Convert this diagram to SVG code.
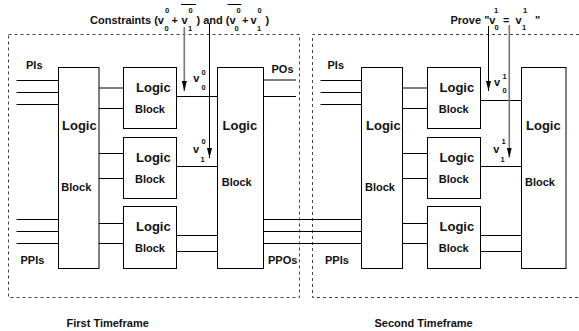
<svg xmlns="http://www.w3.org/2000/svg" width="579" height="331" viewBox="0 0 579 331">
  <style>
    text { font-family: "Liberation Sans", Arial, sans-serif; font-weight: bold; fill: #111; }
    .t { font-size: 11px; }
    .lg { font-size: 13px; }
    .bk { font-size: 11px; }
    .s { font-size: 7.5px; }
    .box { fill: #fff; stroke: #000; stroke-width: 1; }
    .frame { fill: none; stroke: #444; stroke-width: 1; stroke-dasharray: 3 3; }
    .w { fill: none; stroke: #000; stroke-width: 1; }
    .g { fill: none; stroke: #777; stroke-width: 1.6; }
  </style>
  <defs>
    <marker id="arr" viewBox="0 0 10 5" refX="10" refY="2.5" markerWidth="10" markerHeight="5" markerUnits="userSpaceOnUse" orient="auto">
      <path d="M0,0 L10,2.5 L0,5 z" fill="#000"/>
    </marker>
  </defs>
  <rect width="579" height="331" fill="#fff"/>

  <!-- timeframe outlines -->
  <g id="frame1">
    <rect class="frame" x="8.5" y="34.5" width="291" height="263"/>
    <text class="t" x="66.5" y="326.5">First Timeframe</text>
  </g>
  <g id="frame2">
    <path class="frame" d="M579,34.5 H312.5 V297.5 H579"/>
    <text class="t" x="374.5" y="326.5">Second Timeframe</text>
  </g>

  <!-- titles -->
  <g id="constraints">
    <text class="t" x="90" y="23.5">Constraints (v</text>
    <text class="s" x="165" y="13">0</text>
    <text class="s" x="164.5" y="30.5">0</text>
    <text class="t" x="171.5" y="23.5">+</text>
    <text class="t" x="181.5" y="23.5">v</text>
    <text class="s" x="188.5" y="13">0</text>
    <text class="s" x="188" y="30.5">1</text>
    <line class="w" x1="181" y1="4.5" x2="196" y2="4.5"/>
    <text class="t" x="196.5" y="23.5">) and (</text>
    <text class="t" x="229.5" y="23.5">v</text>
    <text class="s" x="236.5" y="13">0</text>
    <text class="s" x="234.5" y="30.5">0</text>
    <line class="w" x1="227.5" y1="4.5" x2="241.5" y2="4.5"/>
    <text class="t" x="242" y="23.5">+</text>
    <text class="t" x="250.5" y="23.5">v</text>
    <text class="s" x="257.5" y="13">0</text>
    <text class="s" x="257" y="30.5">1</text>
    <text class="t" x="265.5" y="23.5">)</text>
  </g>
  <g id="prove">
    <text class="t" x="450.5" y="23.5">Prove "v</text>
    <text class="s" x="494" y="12.5">1</text>
    <text class="s" x="494.5" y="30">0</text>
    <text class="t" x="503" y="23.5">=</text>
    <text class="t" x="515.5" y="23.5">v</text>
    <text class="s" x="523" y="12.5">1</text>
    <text class="s" x="522" y="30">1</text>
    <text class="t" x="535" y="23.5">"</text>
  </g>

  <!-- wires and signal arrows -->
  <g id="connectors">
    <!-- frame 1 inputs -->
    <path class="w" d="M16.5,80.5 H58.5 M16.5,92.5 H58.5 M16.5,104.5 H58.5"/>
    <path class="w" d="M16.5,219.5 H58.5 M16.5,231.5 H58.5 M16.5,243.5 H58.5"/>
    <!-- frame 1 inner wires -->
    <path class="w" d="M99,88 H123.5 M99,108.5 H123.5 M99,153.5 H123.5 M99,178.5 H123.5 M99,223.5 H123.5 M99,243.5 H123.5"/>
    <path class="w" d="M176.5,96.5 H217.5 M176.5,166.5 H217.5 M176.5,235.5 H217.5 M176.5,251.5 H217.5"/>
    <!-- POs -->
    <path class="w" d="M263.5,80 H296 M263.5,96.5 H296"/>
    <!-- PPOs feeding the next frame's PPIs -->
    <path class="w" d="M263.5,219.5 H361.5 M263.5,231.5 H361.5 M263.5,243.5 H361.5"/>
    <!-- frame 2 inputs -->
    <path class="w" d="M320.5,80.5 H361.5 M320.5,92.5 H361.5 M320.5,104.5 H361.5"/>
    <!-- frame 2 inner wires -->
    <path class="w" d="M402.5,88 H427.5 M402.5,108.5 H427.5 M402.5,153.5 H427.5 M402.5,178.5 H427.5 M402.5,223.5 H427.5 M402.5,243.5 H427.5"/>
    <path class="w" d="M480.5,100.5 H521.5 M480.5,166.5 H521.5 M480.5,235.5 H521.5 M480.5,251.5 H521.5"/>
    <!-- constraint / property arrows -->
    <line class="g" x1="184.3" y1="27" x2="184.3" y2="91" marker-end="url(#arr)"/>
    <line class="w" x1="209.5" y1="23.5" x2="209.5" y2="158" marker-end="url(#arr)"/>
    <line class="w" x1="488.5" y1="26" x2="488.5" y2="91" marker-end="url(#arr)"/>
    <line class="g" x1="509.3" y1="25" x2="509.3" y2="157.5" marker-end="url(#arr)"/>
  </g>

  <!-- signal labels -->
  <g id="signal-labels">
    <text class="t" x="26" y="68.5">PIs</text>
    <text class="t" x="271.5" y="72.5">POs</text>
    <text class="t" x="20.5" y="264">PPIs</text>
    <text class="t" x="268" y="264">PPOs</text>
    <text class="t" x="327.5" y="68.5">PIs</text>
    <text class="t" x="325" y="264">PPIs</text>
    <text class="t" x="193.3" y="82">v</text>
    <text class="s" x="201.5" y="75">0</text>
    <text class="s" x="201.5" y="90">0</text>
    <text class="t" x="193" y="153.3">v</text>
    <text class="s" x="201.5" y="144">0</text>
    <text class="s" x="200.5" y="161.5">1</text>
    <text class="t" x="494" y="86">v</text>
    <text class="s" x="502.5" y="79">1</text>
    <text class="s" x="502.5" y="93">0</text>
    <text class="t" x="493.3" y="153">v</text>
    <text class="s" x="501.5" y="144">1</text>
    <text class="s" x="500.5" y="161.5">1</text>
  </g>

  <!-- frame 1 blocks -->
  <g id="f1-in">
    <rect class="box" x="58.5" y="67.5" width="40.5" height="201"/>
    <text class="lg" x="62" y="129.5">Logic</text>
    <text class="bk" x="61.3" y="190.5">Block</text>
  </g>
  <g id="f1-b1">
    <rect class="box" x="123.5" y="67.5" width="53" height="61"/>
    <text class="lg" x="136" y="91.5">Logic</text>
    <text class="bk" x="135" y="113">Block</text>
  </g>
  <g id="f1-b2">
    <rect class="box" x="123.5" y="137.5" width="53" height="61"/>
    <text class="lg" x="136" y="161.5">Logic</text>
    <text class="bk" x="135" y="183">Block</text>
  </g>
  <g id="f1-b3">
    <rect class="box" x="123.5" y="206.5" width="53" height="62"/>
    <text class="lg" x="136" y="230.5">Logic</text>
    <text class="bk" x="135" y="252">Block</text>
  </g>
  <g id="f1-out">
    <rect class="box" x="217.5" y="67.5" width="46" height="201"/>
    <text class="lg" x="222.5" y="129.5">Logic</text>
    <text class="bk" x="221.7" y="185.5">Block</text>
  </g>

  <!-- frame 2 blocks -->
  <g id="f2-in">
    <rect class="box" x="361.5" y="67.5" width="41" height="201"/>
    <text class="lg" x="366" y="129.5">Logic</text>
    <text class="bk" x="365" y="190.5">Block</text>
  </g>
  <g id="f2-b1">
    <rect class="box" x="427.5" y="67.5" width="53" height="61"/>
    <text class="lg" x="439.5" y="91.5">Logic</text>
    <text class="bk" x="438.7" y="113">Block</text>
  </g>
  <g id="f2-b2">
    <rect class="box" x="427.5" y="137.5" width="53" height="61"/>
    <text class="lg" x="439.5" y="161.5">Logic</text>
    <text class="bk" x="438.7" y="183">Block</text>
  </g>
  <g id="f2-b3">
    <rect class="box" x="427.5" y="206.5" width="53" height="62"/>
    <text class="lg" x="439.5" y="230.5">Logic</text>
    <text class="bk" x="438.7" y="252">Block</text>
  </g>
  <g id="f2-out">
    <rect class="box" x="521.5" y="67.5" width="44.5" height="201"/>
    <text class="lg" x="526" y="129.5">Logic</text>
    <text class="bk" x="525" y="185.5">Block</text>
  </g>
</svg>
